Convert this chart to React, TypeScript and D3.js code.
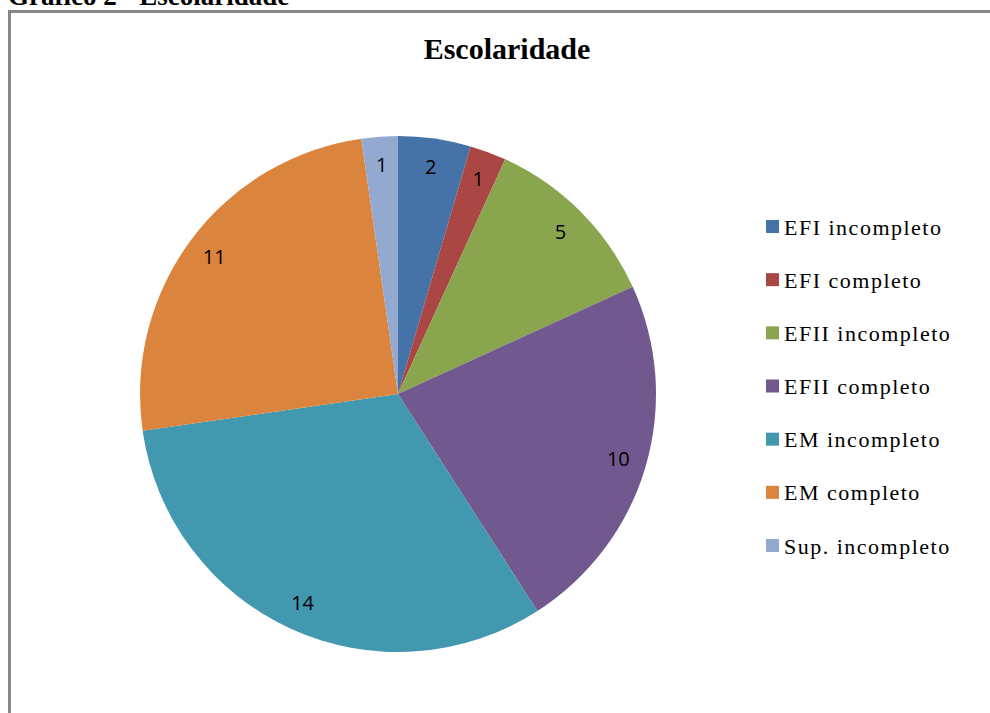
import React from "react";
import * as d3 from "d3";

const categories = ["EFI incompleto", "EFI completo", "EFII incompleto", "EFII completo", "EM incompleto", "EM completo", "Sup. incompleto"];
const values = [2, 1, 5, 10, 14, 11, 1];
const colors = ["#4572A7", "#AA4643", "#89A54E", "#71588F", "#4198AF", "#DB843D", "#93A9CF"];
const chartTitle = "Escolaridade";
const caption = "Gráfico 2 - Escolaridade";

export default function App() {
  const W = 990, H = 713;
  const cx = 398, cy = 394, R = 258;
  const pie = d3.pie<number>().sort(null).value((d) => d)(values);
  const arc = d3.arc<d3.PieArcDatum<number>>().innerRadius(0).outerRadius(R);
  const labelArc = d3.arc<d3.PieArcDatum<number>>().innerRadius(R * 0.89).outerRadius(R * 0.89);
  const legendY = d3.scalePoint<number>().domain(d3.range(categories.length)).range([227, 546]);
  return (
    <svg width={W} height={H} style={{ position: "absolute", left: 0, top: 0, background: "#fff" }}>
      <text x={8} y={5} fontFamily="Liberation Serif" fontWeight="bold" fontSize={27}>{caption}</text>
      <path d={`M9.5,${H + 2} V11.5 H${W + 2}`} fill="none" stroke="#878787" strokeWidth={3} />
      <text x={507} y={59} textAnchor="middle" fontFamily="Liberation Serif" fontWeight="bold" fontSize={30}>{chartTitle}</text>
      <g transform={`translate(${cx},${cy})`}>
        {pie.map((p, i) => (
          <path key={i} d={arc(p) || ""} fill={colors[i]} />
        ))}
        {pie.map((p, i) => {
          const [x, y] = labelArc.centroid(p);
          return (
            <text key={i} x={x} y={y} textAnchor="middle" dominantBaseline="central" fontFamily="Open Sans" fontSize={20} fill="#000">{values[i]}</text>
          );
        })}
      </g>
      {categories.map((c, i) => (
        <g key={i} transform={`translate(766,${legendY(i)})`}>
          <rect x={0} y={-7} width={13} height={13} fill={colors[i]} />
          <text x={18} y={0} dominantBaseline="central" fontFamily="Liberation Serif" fontSize={22} letterSpacing={1.5}>{c}</text>
        </g>
      ))}
    </svg>
  );
}
